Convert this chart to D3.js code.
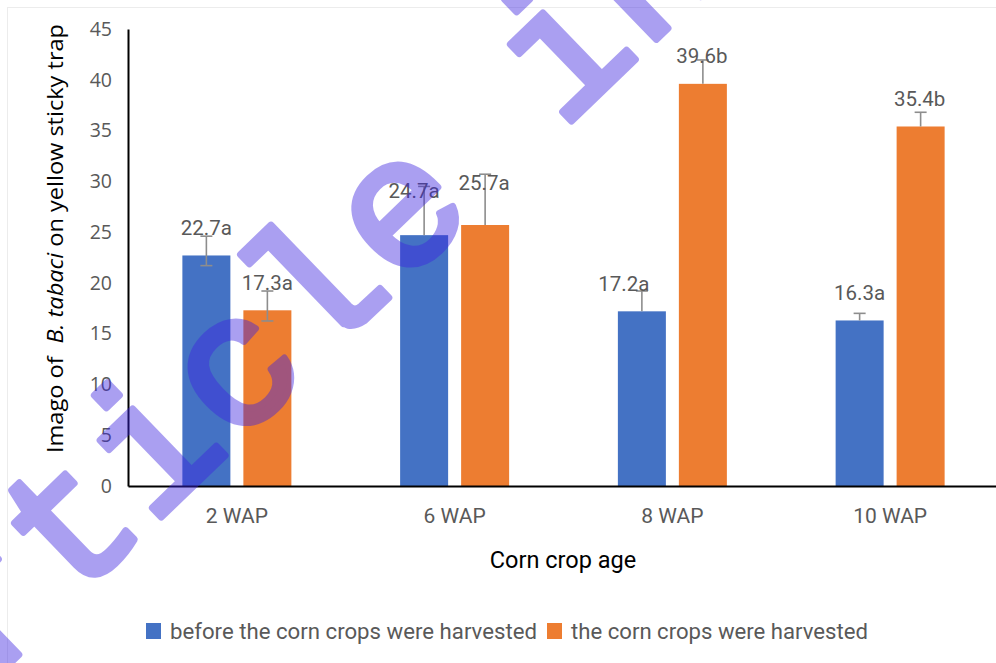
<!DOCTYPE html>
<html>
<head>
<meta charset="utf-8">
<script src="https://cdn.jsdelivr.net/npm/d3@7/dist/d3.min.js"></script>
<style>
  html, body { margin: 0; padding: 0; background: #fff; }
  svg { display: block; }
</style>
</head>
<body>
<svg id="chart" width="996" height="663"></svg>
<script>
// ---- data ----
const categories = ["2 WAP", "6 WAP", "8 WAP", "10 WAP"];
const seriesNames = ["before the corn crops were harvested", "the corn crops were harvested"];
const beforeValues = [22.7, 24.7, 17.2, 16.3];
const afterValues = [17.3, 25.7, 39.6, 35.4];
const beforeLetters = ["a", "a", "a", "a"];
const afterLetters = ["a", "a", "b", "b"];
const beforeErrPlus = [1.9, 4.8, 2.0, 0.7];
const beforeErrMinus = [1.0, 0, 0, 0];
const afterErrPlus = [1.9, 5.0, 2.35, 1.4];
const afterErrMinus = [1.05, 0, 0, 0];
const yTicks = [0, 5, 10, 15, 20, 25, 30, 35, 40, 45];
const watermarkText = "Article in press";

// ---- layout / style ----
const colors = ["#4472C4", "#ED7D31"];
const labelNudge = [
  [[0, 0], [-10, -17], [-18, 0], [0, 0]],
  [[0, 0], [-1, -14], [-1, 0], [-1, 0]]
];
const plot = { left: 128, right: 999, top: 29, bottom: 486 };

const svg = d3.select("#chart");

// outer faint frame
svg.append("rect").attr("x", 7.5).attr("y", 7.5).attr("width", 1000).attr("height", 700)
  .attr("fill", "none").attr("stroke", "#ececec").attr("stroke-width", 1);

const x0 = d3.scaleBand().domain(categories).range([plot.left, plot.right]).padding(0);
const bw = x0.bandwidth();
const groupW = 109;
const x1 = d3.scaleBand().domain([0, 1]).range([(bw - groupW) / 2, (bw + groupW) / 2]).paddingInner(0.213);
const y = d3.scaleLinear().domain([0, 45]).range([plot.bottom, plot.top]);

const series = [
  { name: seriesNames[0], values: beforeValues, letters: beforeLetters, plus: beforeErrPlus, minus: beforeErrMinus },
  { name: seriesNames[1], values: afterValues, letters: afterLetters, plus: afterErrPlus, minus: afterErrMinus }
];

// bars
series.forEach((s, si) => {
  svg.append("g").selectAll("rect").data(s.values).join("rect")
    .attr("x", (d, i) => x0(categories[i]) + x1(si))
    .attr("y", d => y(d))
    .attr("width", x1.bandwidth())
    .attr("height", d => y(0) - y(d))
    .attr("fill", colors[si]);
});

// error bars
series.forEach((s, si) => {
  const g = svg.append("g").attr("stroke", "#8d8d8d").attr("stroke-width", 1.6).attr("fill", "none");
  s.values.forEach((v, i) => {
    const cx = x0(categories[i]) + x1(si) + x1.bandwidth() / 2;
    const top = y(v + s.plus[i]);
    const bot = y(v - s.minus[i]);
    g.append("line").attr("x1", cx).attr("x2", cx).attr("y1", top).attr("y2", bot);
    g.append("line").attr("x1", cx - 6).attr("x2", cx + 6).attr("y1", top).attr("y2", top);
    if (s.minus[i] > 0) {
      g.append("line").attr("x1", cx - 6).attr("x2", cx + 6).attr("y1", bot).attr("y2", bot);
    }
  });
});

// data labels
series.forEach((s, si) => {
  svg.append("g").selectAll("text").data(s.values).join("text")
    .attr("x", (d, i) => x0(categories[i]) + x1(si) + x1.bandwidth() / 2 + labelNudge[si][i][0])
    .attr("y", (d, i) => y(d) - 28 + labelNudge[si][i][1])
    .attr("dy", "0.36em")
    .attr("text-anchor", "middle")
    .attr("font-family", "Roboto, 'Noto Sans', sans-serif")
    .attr("font-size", 20.5)
    .attr("fill", "#595959")
    .text((d, i) => d.toFixed(1) + s.letters[i]);
});

// y axis
const yAxis = d3.axisLeft(y).tickValues(yTicks).tickSize(0).tickPadding(16).tickSizeOuter(0);
const gy = svg.append("g").attr("transform", `translate(${plot.left},0)`).call(yAxis);
gy.select(".domain").attr("stroke", "#000").attr("stroke-width", 2);
gy.selectAll("text").attr("font-family", "'Open Sans', sans-serif").attr("font-size", 19.5).attr("fill", "#595959");

// x axis
const xAxis = d3.axisBottom(x0).tickSize(0).tickPadding(22).tickSizeOuter(0);
const gx = svg.append("g").attr("transform", `translate(0,${plot.bottom})`).call(xAxis);
gx.select(".domain").attr("stroke", "#000").attr("stroke-width", 2);
gx.selectAll("text").attr("font-family", "Roboto, sans-serif").attr("font-size", 21).attr("fill", "#595959");

// axis titles
svg.append("text")
  .attr("x", 563).attr("y", 560).attr("dy", "0.36em")
  .attr("text-anchor", "middle")
  .attr("font-family", "Roboto, sans-serif").attr("font-size", 23.5).attr("fill", "#000")
  .text("Corn crop age");

const yt = svg.append("text")
  .attr("transform", "translate(55,238.5) rotate(-90)")
  .attr("dy", "0.36em")
  .attr("text-anchor", "middle")
  .attr("font-family", "'Open Sans', sans-serif").attr("font-size", 21).attr("fill", "#000")
  .attr("textLength", 429).attr("lengthAdjust", "spacingAndGlyphs");
yt.append("tspan").text("Imago of ");
yt.append("tspan").attr("dx", 6).attr("font-style", "italic").text("B. tabaci");
yt.append("tspan").text(" on yellow sticky trap");

// legend
const legendItems = [
  { sx: 146, tx: 170, w: 367 },
  { sx: 547, tx: 571, w: 297 }
];
seriesNames.forEach((n, i) => {
  svg.append("rect").attr("x", legendItems[i].sx).attr("y", 623).attr("width", 15).attr("height", 16).attr("fill", colors[i]);
  svg.append("text").attr("x", legendItems[i].tx).attr("y", 631).attr("dy", "0.36em")
    .attr("font-family", "Roboto, sans-serif").attr("font-size", 22).attr("fill", "#595959")
    .attr("textLength", legendItems[i].w).attr("lengthAdjust", "spacingAndGlyphs")
    .text(n);
});

// watermark overlay
const wm = svg.append("g").attr("opacity", 0.43)
  .attr("transform", "translate(240,373) rotate(-44)");
wm.selectAll("text").data(watermarkText.split("")).join("text")
  .attr("x", (d, i) => (i - 4) * 114)
  .attr("y", 0)
  .attr("dy", "0.265em")
  .attr("text-anchor", "middle")
  .attr("font-family", "'Liberation Mono', monospace")
  .attr("font-size", 185)
  .attr("fill", "rgb(60,35,225)")
  .attr("stroke", "rgb(60,35,225)")
  .attr("stroke-width", 7)
  .attr("stroke-linejoin", "round")
  .text(d => d);
</script>
</body>
</html>
